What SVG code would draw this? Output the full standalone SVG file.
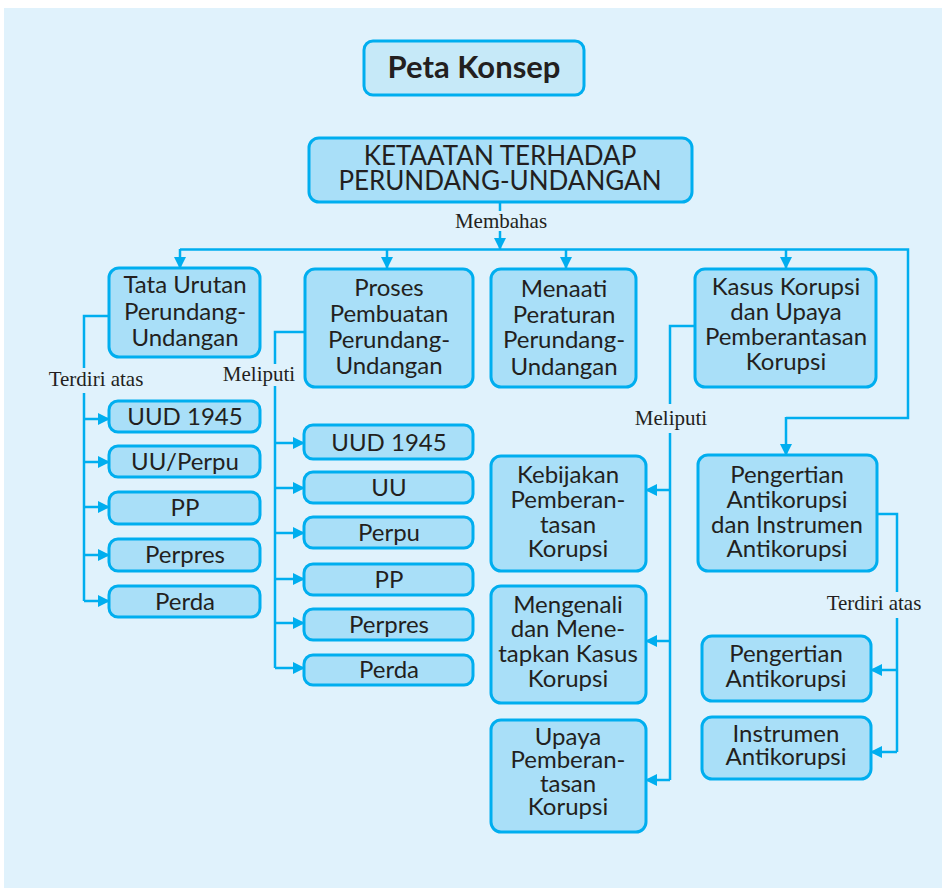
<svg xmlns="http://www.w3.org/2000/svg" width="942" height="888" viewBox="0 0 942 888">
<defs>
<marker id="ah" markerUnits="userSpaceOnUse" markerWidth="12" markerHeight="12" refX="11" refY="6" orient="auto">
<path d="M0,0 L12,6 L0,12 z" fill="#00AEEF"/>
</marker>
</defs>
<style>
.bx{fill:#A9DFF8;stroke:#00AEEF;stroke-width:3}
.t{font-family:Lato,"Open Sans",sans-serif;font-size:24px;fill:#231F20;text-anchor:middle}
.lb{font-family:"Liberation Serif",serif;font-size:21px;fill:#231F20;text-anchor:middle}
.c{fill:none;stroke:#00AEEF;stroke-width:2.5}
.a{fill:none;stroke:#00AEEF;stroke-width:2.5;marker-end:url(#ah)}
</style>
<rect x="4" y="8" width="938" height="880" fill="#E0F2FC"/>
<g id="title">
<rect x="364" y="41" width="220" height="54" rx="9" fill="#C6E9F8" stroke="#00AEEF" stroke-width="3"/>
<text x="474" y="78" style="font-family:Lato,sans-serif;font-size:31px;font-weight:bold;fill:#231F20;text-anchor:middle">Peta Konsep</text>
</g>
<g id="connectors">
<path class="c" d="M500,202 V211"/>
<path class="a" d="M500,231 V249"/>
<path class="c" d="M180,249.5 H908 V418 H786"/>
<path class="a" d="M180,249 V268"/>
<path class="a" d="M387,249 V268"/>
<path class="a" d="M566,249 V268"/>
<path class="a" d="M786,249 V268"/>
<path class="a" d="M786,417 V455"/>
<path class="c" d="M109,316 H84 V368"/>
<path class="c" d="M84,393 V601"/>
<path class="a" d="M84,419 H109"/>
<path class="a" d="M84,462 H109"/>
<path class="a" d="M84,507 H109"/>
<path class="a" d="M84,555 H109"/>
<path class="a" d="M84,601 H109"/>
<path class="c" d="M305,332 H275 V364"/>
<path class="c" d="M275,386 V668"/>
<path class="a" d="M275,443 H304"/>
<path class="a" d="M275,488 H304"/>
<path class="a" d="M275,533 H304"/>
<path class="a" d="M275,579 H304"/>
<path class="a" d="M275,623 H304"/>
<path class="a" d="M275,668 H304"/>
<path class="c" d="M695,326 H670 V404"/>
<path class="c" d="M670,433 V780"/>
<path class="a" d="M670,490 H646"/>
<path class="a" d="M670,641 H646"/>
<path class="a" d="M670,780 H646"/>
<path class="c" d="M877,514 H897 V592"/>
<path class="c" d="M897,618 V752"/>
<path class="a" d="M897,670 H871"/>
<path class="a" d="M897,752 H871"/>
</g>
<g id="main">
<rect class="bx" x="309" y="138" width="383" height="64" rx="10"/>
<text class="t" x="500" y="165" style="font-size:26px">KETAATAN TERHADAP</text>
<text class="t" x="500" y="190" style="font-size:26px">PERUNDANG-UNDANGAN</text>
</g>
<text class="lb" x="501" y="228">Membahas</text>
<g id="tata">
<rect class="bx" x="109" y="268" width="151" height="89" rx="10"/>
<text class="t" x="185" y="293">Tata Urutan</text>
<text class="t" x="185" y="320">Perundang-</text>
<text class="t" x="185" y="346">Undangan</text>
</g>
<g id="proses">
<rect class="bx" x="305" y="269" width="168" height="118" rx="10"/>
<text class="t" x="389" y="296">Proses</text>
<text class="t" x="389" y="322">Pembuatan</text>
<text class="t" x="389" y="348">Perundang-</text>
<text class="t" x="389" y="374">Undangan</text>
</g>
<g id="menaati">
<rect class="bx" x="491" y="269" width="145" height="118" rx="10"/>
<text class="t" x="564" y="297">Menaati</text>
<text class="t" x="564" y="323">Peraturan</text>
<text class="t" x="564" y="348">Perundang-</text>
<text class="t" x="564" y="375">Undangan</text>
</g>
<g id="kasus">
<rect class="bx" x="695" y="269" width="181" height="118" rx="10"/>
<text class="t" x="786" y="295">Kasus Korupsi</text>
<text class="t" x="786" y="320">dan Upaya</text>
<text class="t" x="786" y="345">Pemberantasan</text>
<text class="t" x="786" y="370">Korupsi</text>
</g>
<text class="lb" x="96" y="386">Terdiri atas</text>
<g id="l1"><rect class="bx" x="109" y="401" width="151" height="31" rx="9"/><text class="t" x="185" y="425">UUD 1945</text></g>
<g id="l2"><rect class="bx" x="109" y="446" width="151" height="31" rx="9"/><text class="t" x="185" y="470">UU/Perpu</text></g>
<g id="l3"><rect class="bx" x="109" y="492" width="151" height="32" rx="9"/><text class="t" x="185" y="516">PP</text></g>
<g id="l4"><rect class="bx" x="109" y="539" width="151" height="32" rx="9"/><text class="t" x="185" y="563">Perpres</text></g>
<g id="l5"><rect class="bx" x="109" y="586" width="151" height="31" rx="9"/><text class="t" x="185" y="610">Perda</text></g>
<text class="lb" x="259" y="381">Meliputi</text>
<g id="p1"><rect class="bx" x="304" y="425" width="169" height="34" rx="9"/><text class="t" x="389" y="451">UUD 1945</text></g>
<g id="p2"><rect class="bx" x="304" y="472" width="169" height="31" rx="9"/><text class="t" x="389" y="496">UU</text></g>
<g id="p3"><rect class="bx" x="304" y="517" width="169" height="31" rx="9"/><text class="t" x="389" y="541">Perpu</text></g>
<g id="p4"><rect class="bx" x="304" y="564" width="169" height="31" rx="9"/><text class="t" x="389" y="588">PP</text></g>
<g id="p5"><rect class="bx" x="304" y="609" width="169" height="31" rx="9"/><text class="t" x="389" y="633">Perpres</text></g>
<g id="p6"><rect class="bx" x="304" y="655" width="169" height="30" rx="9"/><text class="t" x="389" y="678">Perda</text></g>
<text class="lb" x="671" y="425">Meliputi</text>
<g id="kebijakan">
<rect class="bx" x="491" y="456" width="155" height="115" rx="10"/>
<text class="t" x="568" y="483">Kebijakan</text>
<text class="t" x="568" y="508">Pemberan-</text>
<text class="t" x="568" y="533">tasan</text>
<text class="t" x="568" y="557">Korupsi</text>
</g>
<g id="mengenali">
<rect class="bx" x="491" y="586" width="155" height="117" rx="10"/>
<text class="t" x="568" y="613">Mengenali</text>
<text class="t" x="568" y="637">dan Mene-</text>
<text class="t" x="568" y="662">tapkan Kasus</text>
<text class="t" x="568" y="687">Korupsi</text>
</g>
<g id="upaya">
<rect class="bx" x="491" y="720" width="155" height="112" rx="10"/>
<text class="t" x="568" y="745">Upaya</text>
<text class="t" x="568" y="768">Pemberan-</text>
<text class="t" x="568" y="792">tasan</text>
<text class="t" x="568" y="815">Korupsi</text>
</g>
<g id="pengertianInstrumen">
<rect class="bx" x="698" y="455" width="179" height="116" rx="10"/>
<text class="t" x="787" y="483">Pengertian</text>
<text class="t" x="787" y="508">Antikorupsi</text>
<text class="t" x="787" y="533">dan Instrumen</text>
<text class="t" x="787" y="557">Antikorupsi</text>
</g>
<text class="lb" x="874" y="610">Terdiri atas</text>
<g id="pengertian">
<rect class="bx" x="702" y="636" width="169" height="65" rx="10"/>
<text class="t" x="786" y="662">Pengertian</text>
<text class="t" x="786" y="687">Antikorupsi</text>
</g>
<g id="instrumen">
<rect class="bx" x="702" y="717" width="169" height="62" rx="10"/>
<text class="t" x="786" y="742">Instrumen</text>
<text class="t" x="786" y="765">Antikorupsi</text>
</g>
</svg>
